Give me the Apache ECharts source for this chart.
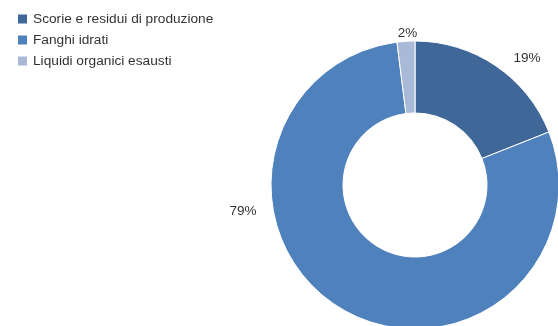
<!DOCTYPE html>
<html>
<head>
<meta charset="utf-8">
<script src="https://cdn.jsdelivr.net/npm/echarts@6/dist/echarts.min.js"></script>
<style>
  html, body { margin: 0; padding: 0; background: #fff; }
  #chart { width: 558px; height: 326px; }
</style>
</head>
<body>
<div id="chart"></div>
<script>
// Waste categories and their share (%)
const categories = ['Scorie e residui di produzione', 'Fanghi idrati', 'Liquidi organici esausti'];
const shares = [19, 79, 2];
const colors = ['#3F6899', '#4F81BD', '#A9B9D8'];

// Small nudges to the default outside label positions
const labelShift = [[7, 1], [-75, -106], [17, 2]];

const chart = echarts.init(document.getElementById('chart'));
chart.setOption({
  animation: false,
  color: colors,
  legend: {
    orient: 'vertical',
    left: 11,
    top: 7,
    itemWidth: 11,
    itemHeight: 11,
    itemGap: 7,
    icon: 'rect',
    textStyle: { fontFamily: 'Liberation Sans, Arial, sans-serif', fontSize: 13.7, color: '#333' },
    data: categories
  },
  series: [{
    type: 'pie',
    center: [415, 185],
    radius: [72, 144],
    startAngle: 90,
    clockwise: true,
    avoidLabelOverlap: false,
    itemStyle: { borderColor: '#fff', borderWidth: 1 },
    label: {
      show: true,
      position: 'outside',
      formatter: '{c}%',
      fontFamily: 'Liberation Sans, Arial, sans-serif',
      fontSize: 13.5,
      color: '#333'
    },
    labelLine: { show: false, length: 10, length2: 0 },
    labelLayout: function (params) {
      const s = labelShift[params.dataIndex];
      return { dx: s[0], dy: s[1] };
    },
    data: categories.map((name, i) => ({ name, value: shares[i] }))
  }]
});
</script>
</body>
</html>
